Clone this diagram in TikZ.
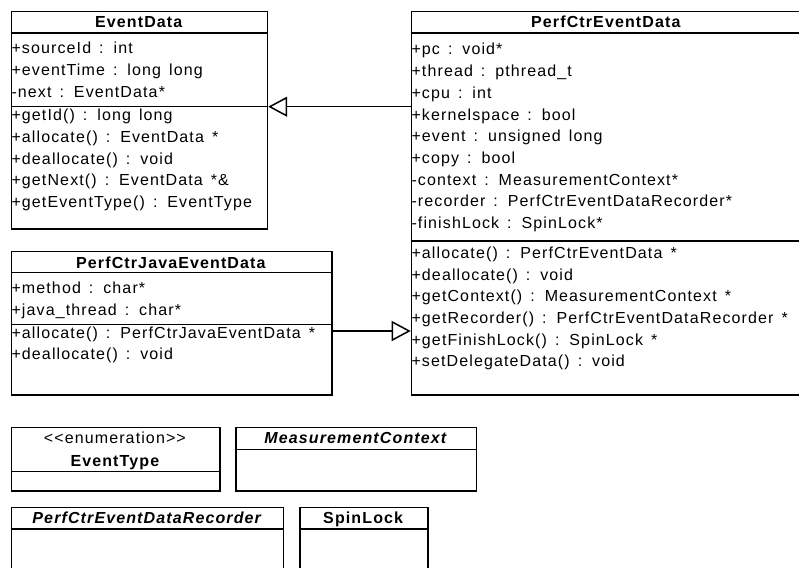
\documentclass[tikz,border=0pt]{standalone}
\usepackage{fontspec}
\setmainfont{Liberation Sans}[LetterSpace=7, WordSpace=1.45]
\usetikzlibrary{arrows.meta}
\tikzset{
  classbox/.style={draw, line width=1.5pt, inner sep=0pt, anchor=north west},
  sepline/.style={line width=1.5pt},
  rowtext/.style={anchor=base west, inner sep=0pt, font=\fontsize{16}{18}\selectfont},
  titletext/.style={anchor=base, inner sep=0pt, font=\fontsize{16}{18}\selectfont\bfseries},
  abstitle/.style={titletext, font=\fontsize{16}{18}\selectfont\bfseries\itshape},
  inherit/.style={line width=1.5pt, -{Triangle[open, length=19pt, width=20pt, line width=1.5pt]}},
}
\newcommand\umlrows[4]{%
  \foreach \t [count=\i] in {#4} {
    \node[rowtext] (#3\i) at (#1, {#2+(\i-1)*21.7}) {\t};
  }%
}
\begin{document}
\begin{tikzpicture}[x=1pt, y=-1pt]
\useasboundingbox (0,0) rectangle (799,567);
\clip (0,0) rectangle (799,567);

% EventData
\node[classbox, minimum width=256pt, minimum height=217.3pt] (ed) at (10.7,10.7) {};
\draw[sepline] (10.7,33) -- (266.7,33);
\draw[sepline] (10.7,106.7) -- (266.7,106.7);
\node[titletext] (edt) at (138.7,27.7) {EventData};
\umlrows{11.3}{54}{eda}{+sourceId : int, +eventTime : long long, -next : EventData*}
\umlrows{11.3}{120.7}{edm}{+getId() : long long, +allocate() : EventData *, +deallocate() : void, +getNext() : EventData *\&, +getEventType() : EventType}

% PerfCtrEventData
\node[classbox, minimum width=390.3pt, minimum height=383.3pt] (pced) at (410.7,10.7) {};
\draw[sepline] (410.7,33) -- (801,33);
\draw[sepline] (410.7,241) -- (801,241);
\node[titletext] (pcedt) at (605.8,27.7) {PerfCtrEventData};
\umlrows{411.3}{55}{pcea}{+pc : void*, +thread : pthread\_t, +cpu : int, +kernelspace : bool, +event : unsigned long, +copy : bool, -context : MeasurementContext*, -recorder : PerfCtrEventDataRecorder*, -finishLock : SpinLock*}
\umlrows{411.3}{258.3}{pcem}{+allocate() : PerfCtrEventData *, +deallocate() : void, +getContext() : MeasurementContext *, +getRecorder() : PerfCtrEventDataRecorder *, +getFinishLock() : SpinLock *, +setDelegateData() : void}

% PerfCtrJavaEventData
\node[classbox, minimum width=320.3pt, minimum height=143.3pt] (jed) at (10.7,250.7) {};
\draw[sepline] (10.7,272.7) -- (331,272.7);
\draw[sepline] (10.7,324.3) -- (331,324.3);
\node[titletext] (jedt) at (170.85,268.3) {PerfCtrJavaEventData};
\umlrows{11.3}{293.3}{jeda}{+method : char*, +java\_thread : char*}
\umlrows{11.3}{338}{jedm}{+allocate() : PerfCtrJavaEventData *, +deallocate() : void}

% EventType
\node[classbox, minimum width=208.3pt, minimum height=63.3pt] (et) at (10.7,426.7) {};
\draw[sepline] (10.7,471.7) -- (219,471.7);
\node[rowtext, anchor=base] (ets) at (114.85,443.3) {<{}<enumeration>{}>};
\node[titletext] (ett) at (114.85,466) {EventType};

% MeasurementContext
\node[classbox, minimum width=240.7pt, minimum height=63.3pt] (mc) at (235,426.7) {};
\draw[sepline] (235,449.3) -- (475.7,449.3);
\node[abstitle] (mct) at (355.35,443.3) {MeasurementContext};

% PerfCtrEventDataRecorder
\node[classbox, minimum width=272pt, minimum height=80pt] (rec) at (10.7,506.7) {};
\draw[sepline] (10.7,529) -- (282.7,529);
\node[abstitle] (rect) at (146.7,523.3) {PerfCtrEventDataRecorder};

% SpinLock
\node[classbox, minimum width=128.3pt, minimum height=80pt] (sl) at (299,506.7) {};
\draw[sepline] (299,529) -- (427.3,529);
\node[titletext] (slt) at (363.15,523.3) {SpinLock};

% generalizations
\coordinate (g1) at (0,106.7);
\coordinate (g2) at (0,331);
\draw[inherit] (pced.west |- g1) -- (ed.east |- g1);
\draw[inherit] (jed.east |- g2) -- (pced.west |- g2);
\end{tikzpicture}
\end{document}
